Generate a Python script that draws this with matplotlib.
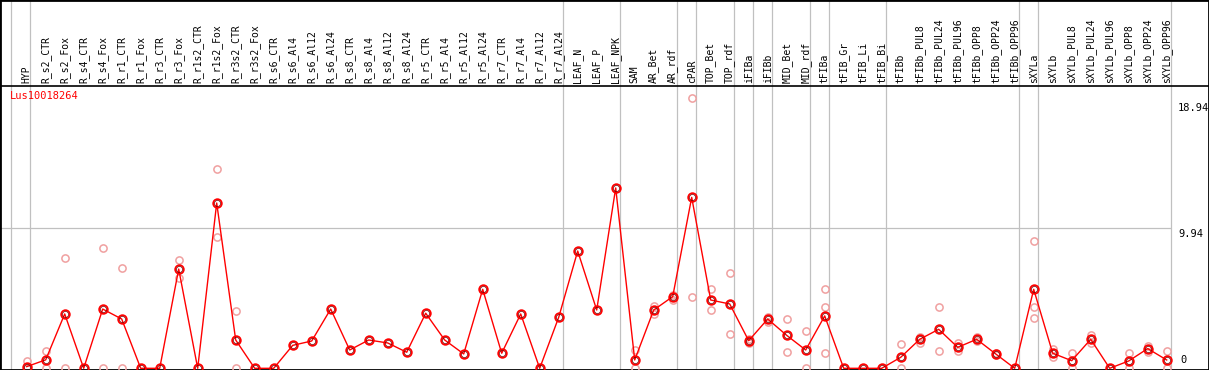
import matplotlib
matplotlib.use('Agg')
import matplotlib.pyplot as plt

GENE_NAME = 'Lus10018264'

SAMPLE_LABELS = ['HYP', 'R_s2_CTR', 'R_s2_Fox', 'R_s4_CTR', 'R_s4_Fox', 'R_r1_CTR', 'R_r1_Fox',
                 'R_r3_CTR', 'R_r3_Fox', 'R_r1s2_CTR', 'R_r1s2_Fox', 'R_r3s2_CTR', 'R_r3s2_Fox',
                 'R_s6_CTR', 'R_s6_Al4', 'R_s6_Al12', 'R_s6_Al24', 'R_s8_CTR', 'R_s8_Al4',
                 'R_s8_Al12', 'R_s8_Al24', 'R_r5_CTR', 'R_r5_Al4', 'R_r5_Al12', 'R_r5_Al24',
                 'R_r7_CTR', 'R_r7_Al4', 'R_r7_Al12', 'R_r7_Al24', 'LEAF_N', 'LEAF_P', 'LEAF_NPK',
                 'SAM', 'AR_Bet', 'AR_rdf', 'cPAR', 'TOP_Bet', 'TOP_rdf', 'iFIBa', 'iFIBb',
                 'MID_Bet', 'MID_rdf', 'tFIBa', 'tFIB_Gr', 'tFIB_Li', 'tFIB_Bi', 'tFIBb',
                 'tFIBb_PUL8', 'tFIBb_PUL24', 'tFIBb_PUL96', 'tFIBb_OPP8', 'tFIBb_OPP24',
                 'tFIBb_OPP96', 'sXYLa', 'sXYLb', 'sXYLb_PUL8', 'sXYLb_PUL24', 'sXYLb_PUL96',
                 'sXYLb_OPP8', 'sXYLb_OPP24', 'sXYLb_OPP96']

MEAN_VALUES = [0.12, 0.6, 3.86, 0, 4.21, 3.5, 0, 0, 7.05, 0,
               11.74, 2.01, 0, 0, 1.63, 1.94, 4.21, 1.30, 2.01, 1.80,
               1.14, 3.91, 2.01, 1.02, 5.61, 1.07, 3.86, 0, 3.62, 8.33,
               4.14, 12.81, 0.59, 4.14, 5.09, 12.14, 4.85, 4.57, 1.96, 3.50,
               2.34, 1.30, 3.72, 0, 0, 0, 0.78, 2.06, 2.77, 1.49,
               2.06, 1.02, 0, 5.61, 1.07, 0.54, 2.06, 0, 0.52, 1.40, 0.59]

REPLICATE_VALUES = [[0.5, 0], [1.23, 0], [7.84, 0], [], [8.55, 0], [7.13, 0], [], [],
                    [7.69, 6.39], [], [14.13, 9.33], [4.07, 0], [], [], [], [], [], [], [],
                    [], [], [], [], [], [], [], [], [], [], [], [], [],
                    [1.30, 0], [4.45, 3.84], [5.21, 4.85], [19.18, 5.04], [5.63, 4.14],
                    [6.77, 2.41], [2.06, 1.82], [3.67, 3.31], [3.50, 1.14], [2.65, 0],
                    [5.61, 4.33, 1.07], [], [], [], [1.70, 0], [2.25, 1.82], [4.33, 1.21],
                    [1.82, 1.21], [2.20, 1.92], [1.07, 0.97], [], [9.04, 4.33, 3.55],
                    [1.40, 0.78], [1.07, 0], [2.39, 1.78], [], [1.07, 0], [1.59, 1.18],
                    [1.21, 0]]

# index of the last sample in each group (-1 = left edge)
GROUP_ENDS = [-1, 0, 28, 31, 34, 35, 37, 38, 39, 41, 42, 45, 52, 53, 60]

SCALE_LABELS = [18.94, 9.94, 0]

FONT = 'DejaVu Sans Mono'
PX_PER_COL = 19.0
FIRST_X_PX = 26.7
ZERO_Y_PX = 368.3
PX_PER_UNIT = 14.08
HEADER_PX = 86


def px_to_x(px):
    return (px - FIRST_X_PX) / PX_PER_COL


def px_to_y(px):
    return (ZERO_Y_PX - px) / PX_PER_UNIT


def main():
    fig = plt.figure(figsize=(12.09, 3.70), dpi=100)
    ax = fig.add_axes([0, 0, 1, 1])
    ax.set_xlim(px_to_x(0), px_to_x(1209))
    ax.set_ylim(px_to_y(370), px_to_y(0))
    ax.set_xticks([])
    ax.set_yticks([])
    for spine in ax.spines.values():
        spine.set_linewidth(2)
        spine.set_color('black')

    grey = '#c0c0c0'
    for end in GROUP_ENDS:
        ax.axvline(end + 0.2, color=grey, linewidth=0.9, zorder=1)
    ax.hlines(9.94, px_to_x(0), GROUP_ENDS[-1] + 0.2, color=grey, linewidth=0.9, zorder=1)
    ax.axhline(px_to_y(HEADER_PX), color='black', linewidth=1.2, zorder=2)

    xs = list(range(len(SAMPLE_LABELS)))
    for i, label in enumerate(SAMPLE_LABELS):
        ax.text(i, px_to_y(83), label, rotation=90, ha='center', va='bottom',
                fontsize=7, family=FONT, color='black')

    for i, reps in enumerate(REPLICATE_VALUES):
        if reps:
            ax.plot([i] * len(reps), reps, linestyle='none', marker='o', markersize=5.2,
                    markerfacecolor='none', markeredgecolor='#f0a0a0', markeredgewidth=1.1,
                    zorder=3, clip_on=False)

    ax.plot(xs, MEAN_VALUES, color='red', linewidth=1, zorder=4)
    ax.plot(xs, MEAN_VALUES, linestyle='none', marker='o', markersize=6.2,
            markerfacecolor='none', markeredgecolor='red', markeredgewidth=1.3, zorder=5)
    ax.plot(xs, MEAN_VALUES, linestyle='none', marker='o', markersize=4.4,
            markerfacecolor='none', markeredgecolor='#700000', markeredgewidth=0.5, zorder=6)

    label_x = px_to_x(1178)
    ax.text(label_x, SCALE_LABELS[0] - 0.1, '%.2f' % SCALE_LABELS[0], ha='left', va='top',
            fontsize=7.5, family=FONT)
    ax.text(label_x, SCALE_LABELS[1] - 0.05, '%.2f' % SCALE_LABELS[1], ha='left', va='top',
            fontsize=7.5, family=FONT)
    ax.text(px_to_x(1180), 0.2, '0', ha='left', va='bottom', fontsize=7.5, family=FONT)

    ax.text(px_to_x(10), px_to_y(91), GENE_NAME, ha='left', va='top', fontsize=7.5,
            family=FONT, color='red')

    fig.savefig('out.png', dpi=100)


main()
